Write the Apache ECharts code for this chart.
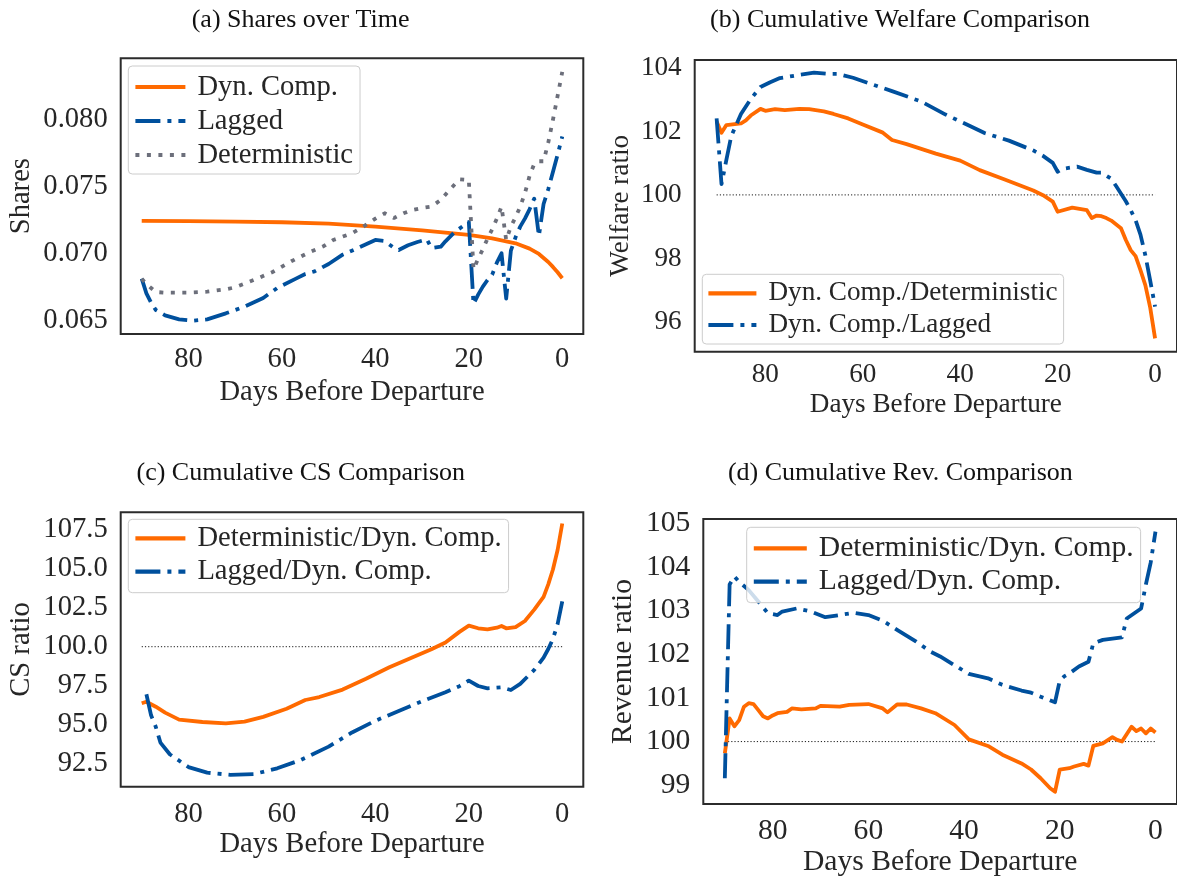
<!DOCTYPE html>
<html>
<head>
<meta charset="utf-8">
<script src="https://cdn.jsdelivr.net/npm/echarts@6/dist/echarts.min.js"></script>
<style>
  html, body { margin: 0; padding: 0; background: #fff; }
  #chart { width: 1177px; height: 880px; }
</style>
</head>
<body>
<div id="chart"></div>
<script>
// ---- (a) Shares over Time ----
const sharesDynDays = [90, 80, 70, 60, 50, 40, 30, 20, 15, 10, 7, 5, 3, 2, 1, 0];
const sharesDynVals = [0.07243, 0.07241, 0.07238, 0.07233, 0.07222, 0.07200, 0.07172, 0.07138, 0.07112, 0.07075, 0.07035, 0.06995, 0.06935, 0.06898, 0.06858, 0.06813];

const sharesLagDays = [90, 89, 88, 87, 85, 82, 79, 76, 72, 68, 64, 61, 57, 55, 53, 50, 47, 44, 40, 38, 36, 35, 33, 31, 29, 28, 26, 25, 23, 21, 20, 19, 18, 17, 16, 15, 14, 13, 12, 11, 10, 9, 8, 7, 6, 5, 4, 3, 2, 1, 0];
const sharesLagVals = [0.0681, 0.0670, 0.0663, 0.06575, 0.06535, 0.06505, 0.06495, 0.06505, 0.0655, 0.0660, 0.06665, 0.0674, 0.0681, 0.06845, 0.06865, 0.0692, 0.0699, 0.07035, 0.0710, 0.07092, 0.0704, 0.07025, 0.0706, 0.07085, 0.07105, 0.0704, 0.0705, 0.0709, 0.0716, 0.0721, 0.07235, 0.0662, 0.0669, 0.0675, 0.0680, 0.0684, 0.0693, 0.0700, 0.0666, 0.0702, 0.0712, 0.0720, 0.0726, 0.0733, 0.0741, 0.0713, 0.0737, 0.0748, 0.0761, 0.0774, 0.07875];

const sharesDetDays = [90, 89, 88, 87, 85, 80, 76, 72, 70, 66, 62, 58, 54, 51, 49, 45, 43, 40, 38, 36, 34, 32, 30, 28, 26, 24, 22, 20, 19, 18, 17, 16, 15, 14, 13, 12, 11, 10, 9, 8, 7, 6, 5, 4, 3, 2, 1, 0];
const sharesDetVals = [0.0681, 0.0677, 0.0674, 0.0671, 0.06705, 0.06705, 0.06712, 0.0673, 0.06745, 0.0680, 0.0686, 0.0694, 0.0701, 0.07055, 0.0710, 0.0715, 0.0719, 0.0726, 0.0730, 0.07265, 0.0730, 0.07325, 0.0734, 0.0735, 0.0740, 0.0748, 0.07555, 0.0755, 0.0688, 0.0696, 0.0703, 0.0711, 0.0718, 0.0726, 0.0735, 0.0710, 0.0720, 0.0727, 0.0735, 0.0745, 0.0758, 0.0767, 0.0769, 0.0769, 0.0783, 0.0800, 0.0818, 0.0836];
const sharesTicks = [0.065, 0.070, 0.075, 0.080];

// ---- (b) Cumulative Welfare Comparison ----
const welfDetDays = [90, 89, 88, 85, 84, 83, 81, 80, 78, 76, 73, 71, 68, 66, 63, 60, 56, 54, 51, 45, 40, 36, 31, 25, 23, 21, 20, 17, 14, 13, 12, 11, 10, 9, 7, 6, 5, 4, 3, 2, 1, 0];
const welfDetVals = [102.31, 101.96, 102.20, 102.25, 102.35, 102.50, 102.71, 102.65, 102.70, 102.67, 102.71, 102.70, 102.63, 102.55, 102.41, 102.22, 101.97, 101.73, 101.60, 101.30, 101.08, 100.78, 100.49, 100.14, 99.99, 99.79, 99.47, 99.60, 99.52, 99.27, 99.35, 99.33, 99.27, 99.19, 98.95, 98.58, 98.26, 98.07, 97.63, 97.16, 96.45, 95.48];

const welfLagDays = [90, 89, 88, 87, 86, 85, 83, 81, 79, 77, 73, 70, 67, 65, 62, 58, 54, 48, 43, 38, 35, 30, 25, 23, 21, 20, 19, 16, 14, 12, 11, 9, 8, 6, 5, 4, 3, 2, 1, 0];
const welfLagVals = [102.41, 100.34, 101.10, 101.85, 102.20, 102.55, 103.02, 103.40, 103.55, 103.68, 103.78, 103.85, 103.81, 103.81, 103.69, 103.48, 103.27, 102.94, 102.53, 102.17, 101.95, 101.71, 101.40, 101.23, 101.01, 100.73, 100.82, 100.89, 100.79, 100.70, 100.70, 100.51, 100.28, 99.80, 99.52, 99.20, 98.75, 98.10, 97.30, 96.48];
const welfTicks = [96, 98, 100, 102, 104];

// ---- (c) Cumulative CS Comparison ----
const csDetDays = [90, 89, 87, 85, 82, 77, 72, 68, 64, 59, 55, 52, 47, 42, 37, 32, 28, 25, 22, 20, 18, 16, 14, 13, 12, 10, 8, 6, 4, 3, 2, 1, 0];
const csDetVals = [96.37, 96.47, 96.15, 95.77, 95.32, 95.17, 95.08, 95.19, 95.50, 96.02, 96.58, 96.77, 97.25, 97.94, 98.68, 99.33, 99.84, 100.27, 100.95, 101.35, 101.18, 101.11, 101.22, 101.33, 101.18, 101.25, 101.65, 102.38, 103.20, 104.00, 104.95, 106.20, 107.90];

const csLagDays = [89, 88, 87, 86, 84, 80, 76, 71, 66, 61, 56, 50, 45, 40, 35, 30, 25, 22, 20, 18, 16, 13, 11, 9, 6, 4, 3, 2, 1, 0];
const csLagVals = [96.95, 95.60, 94.87, 93.85, 93.10, 92.28, 91.92, 91.78, 91.83, 92.20, 92.73, 93.59, 94.50, 95.25, 95.88, 96.50, 97.08, 97.47, 97.82, 97.48, 97.33, 97.39, 97.22, 97.62, 98.51, 99.30, 99.85, 100.50, 101.45, 102.90];
const csTicks = [92.5, 95.0, 97.5, 100.0, 102.5, 105.0, 107.5];

// ---- (d) Cumulative Rev. Comparison ----
const revDetDays = [90, 89, 88, 87, 86, 85, 84, 83, 82, 81, 80, 79, 77, 76, 74, 71, 70, 66, 64, 60, 57, 56, 54, 52, 49, 46, 42, 39, 35, 32, 28, 26, 24, 22, 21, 20, 18, 17, 15, 14, 13, 11, 9, 8, 7, 5, 4, 3, 2, 1, 0];
const revDetVals = [99.73, 100.53, 100.35, 100.49, 100.80, 100.88, 100.86, 100.72, 100.58, 100.53, 100.60, 100.65, 100.68, 100.76, 100.74, 100.76, 100.82, 100.80, 100.84, 100.86, 100.76, 100.67, 100.85, 100.85, 100.76, 100.65, 100.38, 100.05, 99.90, 99.70, 99.50, 99.36, 99.16, 98.93, 98.85, 99.36, 99.39, 99.43, 99.49, 99.45, 99.90, 99.96, 100.10, 100.04, 100.00, 100.34, 100.24, 100.30, 100.19, 100.30, 100.21];

const revLagDays = [90, 89, 88, 87, 85, 83, 81, 79, 78, 75, 72, 69, 66, 63, 60, 57, 54, 50, 47, 45, 42, 39, 35, 32, 28, 26, 24, 21, 20, 19, 18, 16, 14, 13, 11, 7, 6, 3, 2, 1, 0];
const revLagVals = [99.16, 103.60, 103.78, 103.66, 103.47, 103.21, 102.94, 102.90, 102.98, 103.05, 102.98, 102.85, 102.90, 102.95, 102.90, 102.77, 102.56, 102.29, 102.06, 101.95, 101.75, 101.55, 101.45, 101.30, 101.17, 101.12, 101.03, 100.90, 101.40, 101.50, 101.56, 101.72, 101.83, 102.25, 102.33, 102.39, 102.82, 103.05, 103.60, 104.10, 104.81];
const revTicks = [99, 100, 101, 102, 103, 104, 105];

// parity reference (ratio = 100) drawn on the ratio panels
const refDays = [90, 0];
const refLevel = 100;
const xTicks = [0, 20, 40, 60, 80];

const FONT = "'Liberation Serif', 'Times New Roman', serif";
const TEXT = '#262626';
const ORANGE = '#ff6a00';
const BLUE = '#00509d';
const GREY = '#6c6f7b';

const SOLID = 'solid';
const DASHDOT = [25, 7, 4, 7];
const DOTTED = [4, 7.5];
const LINE_W = 3.8;

function pairs(days, vals) { return days.map((d, i) => [d, vals[i]]); }

const panels = [
  {
    title: '(a) Shares over Time', tx: 300.6, ty: 20,
    grid: { left: 120.7, top: 58.3, width: 462.6, height: 275.7 },
    fs: 28.6, xMargin: 11, xNameGap: 44, yName: 'Shares', yNameGap: 85,
    yMin: 0.06395, yMax: 0.08462, yTicks: sharesTicks, yFmt: v => v.toFixed(3),
    ref: false,
    legend: { left: 128.3, top: 66, padding: [6, 7, 4, 5], itemWidth: 50, lh: 30, gap: 4 },
    lines: [
      { name: 'Dyn. Comp.', data: pairs(sharesDynDays, sharesDynVals), color: ORANGE, type: SOLID },
      { name: 'Lagged', data: pairs(sharesLagDays, sharesLagVals), color: BLUE, type: DASHDOT },
      { name: 'Deterministic', data: pairs(sharesDetDays, sharesDetVals), color: GREY, type: DOTTED }
    ]
  },
  {
    title: '(b) Cumulative Welfare Comparison', tx: 900, ty: 20,
    grid: { left: 694.7, top: 60, width: 489.2, height: 291.7 },
    fs: 27.2, xMargin: 10, xNameGap: 39.5, yName: 'Welfare ratio', yNameGap: 60,
    yMin: 95.06, yMax: 104.25, yTicks: welfTicks, yFmt: v => String(Math.round(v)),
    ref: true,
    legend: { left: 702.3, top: 274.3, padding: [5, 6, 5, 4], itemWidth: 48, lh: 28, gap: 3.7 },
    lines: [
      { name: 'Dyn. Comp./Deterministic', data: pairs(welfDetDays, welfDetVals), color: ORANGE, type: SOLID },
      { name: 'Dyn. Comp./Lagged', data: pairs(welfLagDays, welfLagVals), color: BLUE, type: DASHDOT }
    ]
  },
  {
    title: '(c) Cumulative CS Comparison', tx: 300.8, ty: 473.5,
    grid: { left: 120.7, top: 512.3, width: 462.6, height: 274.4 },
    fs: 28.6, xMargin: 13, xNameGap: 41.7, yName: 'CS ratio', yNameGap: 85,
    yMin: 91.02, yMax: 108.62, yTicks: csTicks, yFmt: v => v.toFixed(1),
    ref: true,
    legend: { left: 128.3, top: 519.3, padding: [4, 7, 6, 5], itemWidth: 50, lh: 30, gap: 3.4 },
    lines: [
      { name: 'Deterministic/Dyn. Comp.', data: pairs(csDetDays, csDetVals), color: ORANGE, type: SOLID },
      { name: 'Lagged/Dyn. Comp.', data: pairs(csLagDays, csLagVals), color: BLUE, type: DASHDOT }
    ]
  },
  {
    title: '(d) Cumulative Rev. Comparison', tx: 900.4, ty: 473.5,
    grid: { left: 703.3, top: 519, width: 479.5, height: 285 },
    fs: 29.6, xMargin: 12, xNameGap: 42.2, yName: 'Revenue ratio', yNameGap: 65,
    yMin: 98.57, yMax: 105.1, yTicks: revTicks, yFmt: v => String(Math.round(v)),
    ref: true,
    legend: { left: 746.7, top: 527.3, padding: [6, 7, 6, 5], itemWidth: 53, lh: 30, gap: 3.4 },
    lines: [
      { name: 'Deterministic/Dyn. Comp.', data: pairs(revDetDays, revDetVals), color: ORANGE, type: SOLID },
      { name: 'Lagged/Dyn. Comp.', data: pairs(revLagDays, revLagVals), color: BLUE, type: DASHDOT }
    ]
  }
];

const option = {
  animation: false,
  backgroundColor: '#ffffff',
  textStyle: { fontFamily: FONT, color: TEXT },
  grid: [], xAxis: [], yAxis: [], series: [], legend: [],
  graphic: []
};

panels.forEach((p, i) => {
  option.grid.push(Object.assign({
    show: true, borderColor: '#2b2b2b', borderWidth: 2, backgroundColor: 'transparent',
    containLabel: false
  }, p.grid));

  option.xAxis.push({
    type: 'value', gridIndex: i, inverse: true, min: -4.5, max: 94.5,
    name: 'Days Before Departure', nameLocation: 'middle', nameGap: p.xNameGap,
    nameTextStyle: { fontFamily: FONT, fontSize: p.fs, color: TEXT },
    axisLine: { show: false }, axisTick: { show: false }, splitLine: { show: false },
    axisLabel: {
      customValues: xTicks, margin: p.xMargin, fontFamily: FONT, fontSize: p.fs, color: TEXT,
      formatter: v => String(v)
    }
  });

  option.yAxis.push({
    type: 'value', gridIndex: i, min: p.yMin, max: p.yMax,
    name: p.yName, nameLocation: 'middle', nameGap: p.yNameGap, nameRotate: 90,
    nameTextStyle: { fontFamily: FONT, fontSize: p.fs, color: TEXT },
    axisLine: { show: false }, axisTick: { show: false }, splitLine: { show: false },
    axisLabel: {
      customValues: p.yTicks, margin: 13, fontFamily: FONT, fontSize: p.fs, color: TEXT,
      formatter: p.yFmt
    }
  });

  if (p.ref) {
    option.series.push({
      type: 'line', xAxisIndex: i, yAxisIndex: i, silent: true, symbol: 'none',
      data: refDays.map(d => [d, refLevel]),
      lineStyle: { color: '#1a1a1a', width: 1, type: [1.2, 2] },
      z: 1
    });
  }

  p.lines.forEach(l => {
    option.series.push({
      type: 'line', name: l.name, xAxisIndex: i, yAxisIndex: i,
      symbol: 'none', showSymbol: false, data: l.data,
      lineStyle: { color: l.color, width: LINE_W, type: l.type, cap: 'butt', join: 'round' },
      itemStyle: { color: l.color },
      z: 2
    });
  });

  option.legend.push({
    orient: 'vertical', left: p.legend.left, top: p.legend.top,
    padding: p.legend.padding, itemGap: p.legend.gap,
    itemWidth: p.legend.itemWidth, itemHeight: 14,
    backgroundColor: 'rgba(255,255,255,0.8)', borderColor: '#cccccc', borderWidth: 1, borderRadius: 4,
    selectedMode: false,
    // legend keys show the line stroke only
    itemStyle: { color: 'rgba(0,0,0,0)', borderWidth: 0, borderColor: 'rgba(0,0,0,0)' },
    lineStyle: { width: 4.2 },
    data: p.lines.map(l => l.name),
    textStyle: {
      fontFamily: FONT, fontSize: p.fs, color: TEXT, lineHeight: p.legend.lh,
      padding: [0, 0, 0, 7]
    }
  });

  option.graphic.push({
    type: 'text', x: p.tx, y: p.ty, silent: true,
    style: {
      text: p.title, fontFamily: FONT, fontSize: 26, fill: '#111111',
      textAlign: 'center', textVerticalAlign: 'middle'
    }
  });
});

const chart = echarts.init(document.getElementById('chart'), null, { renderer: 'canvas', width: 1177, height: 880 });
chart.setOption(option);
</script>
</body>
</html>
